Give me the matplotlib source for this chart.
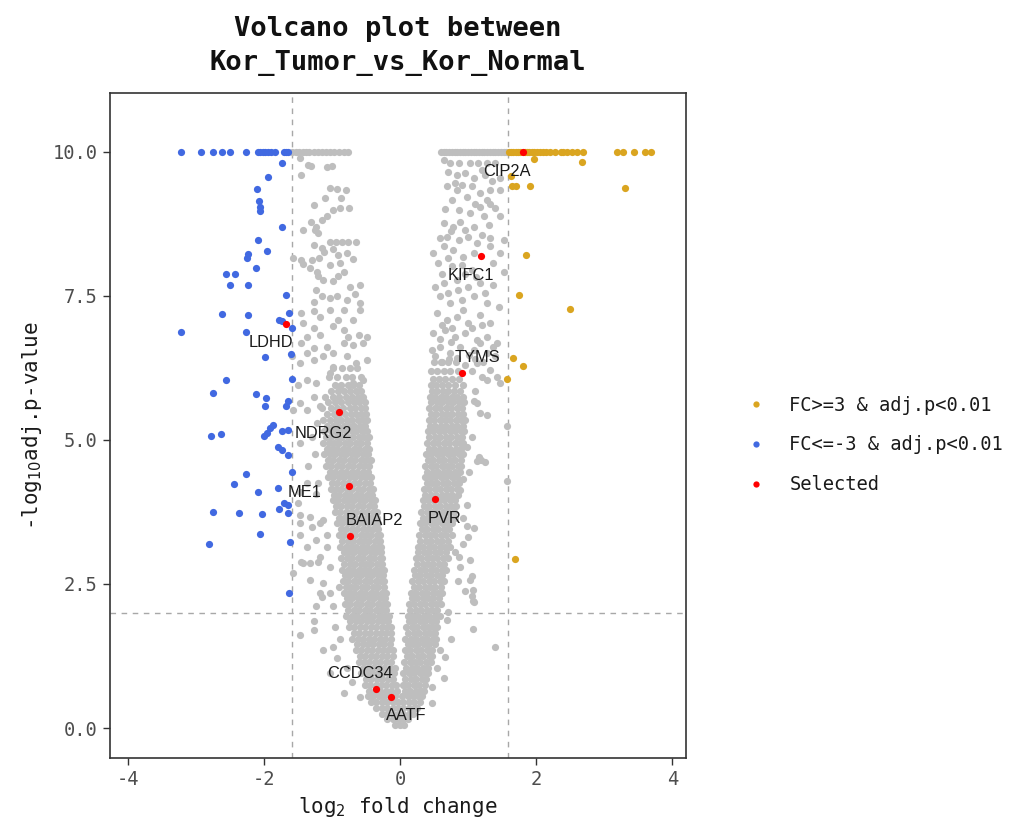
import matplotlib
matplotlib.use("Agg")
import matplotlib.pyplot as plt
from matplotlib.lines import Line2D
import numpy as np

plt.rcParams['axes.unicode_minus'] = False
MONO = 'DejaVu Sans Mono'

# ---- data ----
# dense part of the cloud, one row per -log10 p level: (y, [log2fc ...])
grey_tip_rows = [
    (0.05, [-0.08, 0.0, 0.06]),
    (0.15, [-0.19, -0.11, -0.03, 0.05, 0.12]),
    (0.25, [-0.27, -0.19, -0.11, -0.03, 0.05, 0.13, 0.19]),
    (0.35, [-0.35, -0.27, -0.19, -0.11, -0.03, 0.05, 0.13, 0.21, 0.25]),
    (0.45, [-0.43, -0.35, -0.27, -0.19, -0.11, -0.03, 0.05, 0.13, 0.21, 0.29]),
]
grey_left_rows = [
    (0.55, [-0.47, -0.39, -0.31, -0.23, -0.15, -0.07]),
    (0.65, [-0.45, -0.37, -0.29, -0.21, -0.13, -0.05]),
    (0.75, [-0.52, -0.44, -0.36, -0.28, -0.20, -0.12, -0.06]),
    (0.85, [-0.50, -0.42, -0.34, -0.26, -0.18, -0.10]),
    (0.95, [-0.57, -0.49, -0.41, -0.33, -0.25, -0.17, -0.09]),
    (1.05, [-0.55, -0.47, -0.39, -0.31, -0.23, -0.15, -0.08]),
    (1.15, [-0.61, -0.53, -0.45, -0.37, -0.29, -0.21, -0.13]),
    (1.25, [-0.59, -0.51, -0.43, -0.35, -0.27, -0.19, -0.10]),
    (1.35, [-0.65, -0.57, -0.49, -0.41, -0.33, -0.25, -0.17, -0.11]),
    (1.45, [-0.63, -0.55, -0.47, -0.39, -0.31, -0.23, -0.15]),
    (1.55, [-0.70, -0.62, -0.54, -0.46, -0.38, -0.30, -0.22, -0.14]),
    (1.65, [-0.68, -0.60, -0.52, -0.44, -0.36, -0.28, -0.20, -0.13]),
    (1.75, [-0.75, -0.67, -0.59, -0.51, -0.43, -0.35, -0.27, -0.19, -0.14]),
    (1.85, [-0.73, -0.65, -0.57, -0.49, -0.41, -0.33, -0.25, -0.17]),
    (1.95, [-0.79, -0.71, -0.63, -0.55, -0.47, -0.39, -0.31, -0.23, -0.16]),
    (2.05, [-0.76, -0.68, -0.60, -0.52, -0.44, -0.36, -0.28, -0.20]),
    (2.15, [-0.81, -0.73, -0.65, -0.57, -0.49, -0.41, -0.33, -0.25, -0.19]),
    (2.25, [-0.78, -0.70, -0.62, -0.54, -0.46, -0.38, -0.30, -0.22]),
    (2.35, [-0.83, -0.75, -0.67, -0.59, -0.51, -0.43, -0.35, -0.27, -0.21]),
    (2.45, [-0.80, -0.72, -0.64, -0.56, -0.48, -0.40, -0.32, -0.24]),
    (2.55, [-0.84, -0.76, -0.68, -0.60, -0.52, -0.44, -0.36, -0.28, -0.23]),
    (2.65, [-0.81, -0.73, -0.65, -0.57, -0.49, -0.41, -0.33, -0.25]),
    (2.75, [-0.85, -0.77, -0.69, -0.61, -0.53, -0.45, -0.37, -0.29, -0.24]),
    (2.85, [-0.82, -0.74, -0.66, -0.58, -0.50, -0.42, -0.34, -0.26]),
    (2.95, [-0.86, -0.78, -0.70, -0.62, -0.54, -0.46, -0.38, -0.30, -0.26]),
    (3.05, [-0.83, -0.75, -0.67, -0.59, -0.51, -0.43, -0.35, -0.28]),
    (3.15, [-0.88, -0.80, -0.72, -0.64, -0.56, -0.48, -0.40, -0.32, -0.28]),
    (3.25, [-0.85, -0.77, -0.69, -0.61, -0.53, -0.45, -0.37, -0.30]),
    (3.35, [-0.90, -0.82, -0.74, -0.66, -0.58, -0.50, -0.42, -0.34, -0.30]),
    (3.45, [-0.87, -0.79, -0.71, -0.63, -0.55, -0.47, -0.39, -0.32]),
    (3.55, [-0.93, -0.85, -0.77, -0.69, -0.61, -0.53, -0.45, -0.37, -0.32]),
    (3.65, [-0.90, -0.82, -0.74, -0.66, -0.58, -0.50, -0.42, -0.34]),
    (3.75, [-0.96, -0.88, -0.80, -0.72, -0.64, -0.56, -0.48, -0.40, -0.34]),
    (3.85, [-0.94, -0.86, -0.78, -0.70, -0.62, -0.54, -0.46, -0.38]),
    (3.95, [-0.99, -0.91, -0.83, -0.75, -0.67, -0.59, -0.51, -0.43, -0.37]),
    (4.05, [-0.97, -0.89, -0.81, -0.73, -0.65, -0.57, -0.49, -0.41]),
    (4.15, [-1.02, -0.94, -0.86, -0.78, -0.70, -0.62, -0.54, -0.46, -0.39]),
    (4.25, [-1.00, -0.92, -0.84, -0.76, -0.68, -0.60, -0.52, -0.44]),
    (4.35, [-1.06, -0.98, -0.90, -0.82, -0.74, -0.66, -0.58, -0.50, -0.42]),
    (4.45, [-1.03, -0.95, -0.87, -0.79, -0.71, -0.63, -0.55, -0.47]),
    (4.55, [-1.09, -1.01, -0.93, -0.85, -0.77, -0.69, -0.61, -0.53, -0.45]),
    (4.65, [-1.06, -0.98, -0.90, -0.82, -0.74, -0.66, -0.58, -0.50, -0.43]),
    (4.75, [-1.11, -1.03, -0.95, -0.87, -0.79, -0.71, -0.63, -0.55, -0.47]),
    (4.85, [-1.08, -1.00, -0.92, -0.84, -0.76, -0.68, -0.60, -0.52, -0.45]),
    (4.95, [-1.13, -1.05, -0.97, -0.89, -0.81, -0.73, -0.65, -0.57, -0.49]),
    (5.05, [-1.09, -1.01, -0.93, -0.85, -0.77, -0.69, -0.61, -0.53, -0.46]),
    (5.15, [-1.12, -1.02, -0.95, -0.88, -0.80, -0.71, -0.64, -0.56, -0.48]),
    (5.25, [-1.07, -0.99, -0.91, -0.83, -0.75, -0.67, -0.59, -0.51]),
    (5.35, [-1.13, -1.03, -0.94, -0.86, -0.78, -0.70, -0.62, -0.54, -0.49]),
    (5.45, [-1.08, -0.97, -0.89, -0.81, -0.72, -0.64, -0.57, -0.50]),
    (5.55, [-1.14, -1.02, -0.92, -0.84, -0.74, -0.66, -0.58, -0.51]),
    (5.65, [-1.06, -0.95, -0.86, -0.77, -0.68, -0.60, -0.52]),
    (5.75, [-1.10, -0.99, -0.89, -0.80, -0.71, -0.62, -0.55]),
    (5.85, [-1.02, -0.91, -0.83, -0.73, -0.65, -0.57]),
    (5.95, [-0.96, -0.86, -0.77, -0.69, -0.60]),
    (6.10, [-1.05, -0.92, -0.80, -0.70, -0.58]),
    (6.25, [-0.99, -0.85, -0.74, -0.63]),
]
grey_right_rows = [
    (0.55, [0.03, 0.11, 0.19, 0.27, 0.32]),
    (0.65, [0.07, 0.15, 0.23, 0.31, 0.35]),
    (0.75, [0.04, 0.12, 0.20, 0.28, 0.36]),
    (0.85, [0.08, 0.16, 0.24, 0.32, 0.38]),
    (0.95, [0.05, 0.13, 0.21, 0.29, 0.37, 0.41]),
    (1.05, [0.09, 0.17, 0.25, 0.33, 0.41]),
    (1.15, [0.06, 0.14, 0.22, 0.30, 0.38, 0.45]),
    (1.25, [0.10, 0.18, 0.26, 0.34, 0.42, 0.47]),
    (1.35, [0.07, 0.15, 0.23, 0.31, 0.39, 0.47]),
    (1.45, [0.11, 0.19, 0.27, 0.35, 0.43, 0.51]),
    (1.55, [0.08, 0.16, 0.24, 0.32, 0.40, 0.48, 0.53]),
    (1.65, [0.12, 0.20, 0.28, 0.36, 0.44, 0.52]),
    (1.75, [0.09, 0.17, 0.25, 0.33, 0.41, 0.49, 0.55]),
    (1.85, [0.13, 0.21, 0.29, 0.37, 0.45, 0.53]),
    (1.95, [0.11, 0.19, 0.27, 0.35, 0.43, 0.51, 0.58]),
    (2.05, [0.15, 0.23, 0.31, 0.39, 0.47, 0.55]),
    (2.15, [0.13, 0.21, 0.29, 0.37, 0.45, 0.53, 0.60]),
    (2.25, [0.17, 0.25, 0.33, 0.41, 0.49, 0.57]),
    (2.35, [0.16, 0.24, 0.32, 0.40, 0.48, 0.56, 0.62]),
    (2.45, [0.20, 0.28, 0.36, 0.44, 0.52, 0.60]),
    (2.55, [0.18, 0.26, 0.34, 0.42, 0.50, 0.58, 0.65]),
    (2.65, [0.22, 0.30, 0.38, 0.46, 0.54, 0.62]),
    (2.75, [0.21, 0.29, 0.37, 0.45, 0.53, 0.61, 0.68]),
    (2.85, [0.25, 0.33, 0.41, 0.49, 0.57, 0.65]),
    (2.95, [0.23, 0.31, 0.39, 0.47, 0.55, 0.63, 0.71]),
    (3.05, [0.27, 0.35, 0.43, 0.51, 0.59, 0.67]),
    (3.15, [0.26, 0.34, 0.42, 0.50, 0.58, 0.66, 0.74]),
    (3.25, [0.30, 0.38, 0.46, 0.54, 0.62, 0.70]),
    (3.35, [0.28, 0.36, 0.44, 0.52, 0.60, 0.68, 0.76]),
    (3.45, [0.32, 0.40, 0.48, 0.56, 0.64, 0.72]),
    (3.55, [0.29, 0.37, 0.45, 0.53, 0.61, 0.69, 0.77]),
    (3.65, [0.33, 0.41, 0.49, 0.57, 0.65, 0.73, 0.80]),
    (3.75, [0.31, 0.39, 0.47, 0.55, 0.63, 0.71, 0.79]),
    (3.85, [0.35, 0.43, 0.51, 0.59, 0.67, 0.75, 0.82]),
    (3.95, [0.33, 0.41, 0.49, 0.57, 0.65, 0.73, 0.81]),
    (4.05, [0.37, 0.45, 0.53, 0.61, 0.69, 0.77, 0.85]),
    (4.15, [0.35, 0.43, 0.51, 0.59, 0.67, 0.75, 0.83]),
    (4.25, [0.39, 0.47, 0.55, 0.63, 0.71, 0.79, 0.87]),
    (4.35, [0.36, 0.44, 0.52, 0.60, 0.68, 0.76, 0.84]),
    (4.45, [0.40, 0.48, 0.56, 0.64, 0.72, 0.80, 0.88]),
    (4.55, [0.37, 0.45, 0.53, 0.61, 0.69, 0.77, 0.85, 0.90]),
    (4.65, [0.41, 0.49, 0.57, 0.65, 0.73, 0.81, 0.89]),
    (4.75, [0.38, 0.46, 0.54, 0.62, 0.70, 0.78, 0.86, 0.92]),
    (4.85, [0.42, 0.50, 0.58, 0.66, 0.74, 0.82, 0.90]),
    (4.95, [0.40, 0.48, 0.56, 0.64, 0.72, 0.80, 0.88, 0.93]),
    (5.05, [0.43, 0.51, 0.59, 0.67, 0.75, 0.83, 0.91]),
    (5.15, [0.41, 0.49, 0.57, 0.65, 0.73, 0.81, 0.89, 0.94]),
    (5.25, [0.44, 0.52, 0.60, 0.68, 0.76, 0.84, 0.92]),
    (5.35, [0.42, 0.50, 0.58, 0.66, 0.74, 0.82, 0.90, 0.95]),
    (5.45, [0.45, 0.53, 0.61, 0.69, 0.77, 0.85, 0.93]),
    (5.55, [0.43, 0.51, 0.59, 0.67, 0.75, 0.83, 0.91]),
    (5.65, [0.46, 0.54, 0.62, 0.70, 0.78, 0.86, 0.94]),
    (5.75, [0.44, 0.52, 0.60, 0.68, 0.76, 0.84, 0.92]),
    (5.85, [0.47, 0.55, 0.63, 0.71, 0.79, 0.88]),
    (5.95, [0.45, 0.53, 0.61, 0.70, 0.80, 0.92]),
    (6.05, [0.48, 0.57, 0.66, 0.76, 0.86]),
    (6.20, [0.46, 0.55, 0.64, 0.74, 0.85]),
    (6.35, [0.50, 0.60, 0.70, 0.82]),
]
# capped genes on the top line (-log10 p = 10)
grey_top_x = [-1.58, -1.53, -1.48, -1.43, -1.38, -1.33, -1.27, -1.21, -1.15,
              -1.09, -1.03, -0.97, -0.90, -0.83, -0.76,
              0.60, 0.64, 0.68, 0.72, 0.76, 0.80, 0.84, 0.88, 0.92, 0.96, 1.00,
              1.04, 1.08, 1.12, 1.16, 1.20, 1.24, 1.28, 1.32, 1.36, 1.40, 1.44,
              1.48, 1.52, 1.56]
# loose points around the arms
grey_scatter = [
    (-1.47, 9.89), (-1.35, 9.77), (-1.31, 9.76), (-1.08, 9.73), (-1.00, 9.76), (-1.46, 9.60),
    (-1.03, 9.37), (-0.93, 9.36), (-0.79, 9.33), (-1.10, 9.20), (-0.86, 9.20), (-1.27, 9.08),
    (-0.98, 8.99), (-0.88, 9.02), (-0.75, 9.02), (-1.08, 8.88), (-1.14, 8.82), (-1.31, 8.79),
    (-1.23, 8.70), (-1.25, 8.65), (-1.42, 8.65), (-1.20, 8.59), (-1.27, 8.39), (-1.03, 8.44),
    (-0.94, 8.44), (-0.85, 8.44), (-0.76, 8.44), (-0.64, 8.44), (-1.15, 8.33), (-1.12, 8.26),
    (-0.98, 8.32), (-0.91, 8.21), (-0.78, 8.24), (-0.69, 8.14), (-1.57, 8.15), (-1.45, 8.13),
    (-1.43, 8.06), (-1.30, 8.13), (-1.19, 8.15), (-1.32, 7.98), (-1.22, 7.92), (-1.03, 8.04),
    (-0.88, 8.07), (-0.83, 7.92), (-1.20, 7.84), (-1.13, 7.78), (-0.98, 7.75), (-0.91, 7.84),
    (-0.74, 7.66), (-0.59, 7.69), (-1.23, 7.60), (-1.15, 7.49), (-1.27, 7.40), (-1.03, 7.46),
    (-0.93, 7.49), (-0.78, 7.43), (-0.66, 7.53), (-0.59, 7.37), (-1.45, 7.20), (-1.27, 7.23),
    (-1.18, 7.14), (-1.03, 7.26), (-0.91, 7.08), (-0.83, 7.26), (-0.69, 7.08), (-0.59, 7.26),
    (-1.42, 7.03), (-1.27, 6.94), (-1.37, 6.79), (-1.18, 6.82), (-0.98, 6.97), (-0.83, 6.91),
    (-0.76, 6.79), (-0.61, 6.82), (-0.49, 6.79), (-1.45, 6.68), (-1.37, 6.51), (-1.27, 6.59),
    (-1.08, 6.62), (-0.98, 6.51), (-0.83, 6.68), (-0.69, 6.65), (-0.54, 6.68), (-1.58, 6.45),
    (-1.47, 6.33), (-1.27, 6.39), (-1.13, 6.45), (-0.98, 6.27), (-0.78, 6.45), (-0.64, 6.33),
    (-0.49, 6.39), (-1.50, 5.95), (-1.37, 6.04), (-1.23, 5.98), (-1.03, 6.16), (-0.88, 5.93),
    (-0.69, 5.98), (-0.54, 6.04), (-1.57, 5.52), (-1.47, 5.64), (-1.37, 5.52), (-1.27, 5.75),
    (-1.18, 5.58),
    (-1.47, 4.94), (-1.50, 3.90), (-1.47, 3.70), (-1.47, 3.35), (-1.46, 2.89), (-1.32, 2.86),
    (-1.20, 2.89), (-1.57, 2.69), (-1.32, 2.57), (-1.18, 2.34), (-1.27, 1.85), (-1.27, 1.70),
    (-1.47, 1.61), (-0.93, 1.21), (-1.37, 4.25), (-1.20, 4.25), (-1.32, 3.67), (-1.18, 3.55),
    (-1.23, 3.26), (-1.37, 3.15), (-1.30, 3.49), (-1.08, 3.15), (-1.47, 4.10), (-1.23, 4.07),
    (-1.47, 3.55), (-1.13, 3.61), (-1.08, 3.35), (-1.42, 2.86), (-1.18, 2.97), (-1.03, 2.80),
    (-1.13, 2.51), (-1.03, 2.34), (-1.15, 2.28), (-0.98, 2.11), (-1.23, 2.11), (-1.13, 1.35),
    (-0.98, 1.41), (-1.03, 0.95), (-0.83, 0.60), (-0.59, 0.54), (-1.25, 4.75), (-1.30, 5.05),
    (-1.22, 5.30), (-1.35, 4.55), (-0.95, 1.75), (-0.90, 2.45), (-0.78, 1.05), (-0.70, 0.80),
    (-0.88, 1.55),
    (1.57, 5.24), (1.57, 4.28), (1.25, 4.62), (1.19, 4.65), (1.13, 4.64), (1.07, 1.72),
    (1.40, 1.41), (1.07, 2.39), (1.07, 2.20), (1.03, 2.57), (0.98, 4.88), (1.18, 5.46),
    (1.28, 5.43), (1.08, 5.67), (1.13, 5.64), (0.98, 3.50), (1.08, 3.47), (1.00, 3.32),
    (1.03, 2.92), (1.05, 2.63), (0.96, 2.37), (1.08, 2.18), (0.71, 2.02), (0.69, 1.88),
    (0.59, 1.35), (0.66, 1.24), (0.64, 0.86), (0.47, 0.72), (0.47, 0.43), (0.86, 2.97),
    (0.88, 2.80), (0.93, 3.20), (0.98, 3.87), (0.88, 4.13), (0.93, 4.33), (1.06, 2.30),
    (1.16, 4.70), (1.05, 5.05), (1.10, 5.85), (1.02, 4.45), (0.92, 3.65), (0.85, 2.55),
    (0.80, 3.05), (0.75, 1.55), (0.55, 1.05),
    (0.74, 9.80), (0.86, 9.80), (1.03, 9.80), (1.15, 9.80), (1.28, 9.80), (1.40, 9.80),
    (0.71, 9.65), (0.83, 9.60), (0.96, 9.63), (1.08, 9.55), (1.25, 9.60), (1.35, 9.50),
    (1.47, 9.55), (0.69, 9.40), (0.83, 9.34), (0.91, 9.43), (1.05, 9.40), (1.18, 9.28),
    (1.28, 9.17), (1.32, 9.34), (1.47, 9.34), (0.76, 9.17), (0.98, 9.22), (1.18, 9.05),
    (1.32, 9.10), (0.86, 8.99), (1.03, 8.94), (1.23, 8.88), (1.47, 8.88), (0.64, 8.76),
    (0.78, 8.70), (0.88, 8.79), (1.08, 8.70), (1.30, 8.73), (0.69, 8.53), (0.86, 8.47),
    (1.00, 8.53), (1.13, 8.41), (1.32, 8.50), (1.52, 8.47), (0.49, 8.24), (0.64, 8.36),
    (0.78, 8.30), (0.93, 8.18), (1.08, 8.24), (1.32, 8.36), (1.47, 8.24), (0.56, 8.07),
    (0.76, 8.01), (0.91, 8.04), (1.05, 7.95), (1.37, 8.07), (1.52, 7.92), (0.64, 7.72),
    (0.83, 7.78), (1.00, 7.66), (1.18, 7.72), (1.37, 7.69), (0.59, 7.49), (0.74, 7.37),
    (0.91, 7.43), (1.08, 7.49), (1.28, 7.37), (0.54, 7.20), (0.69, 7.08), (0.83, 7.14),
    (1.00, 7.03), (1.18, 7.17), (1.32, 7.03), (0.49, 6.85), (0.66, 6.91), (0.81, 6.79),
    (0.96, 6.85), (1.13, 6.74), (1.28, 6.79), (1.42, 6.68), (0.47, 6.56), (0.59, 6.62),
    (0.74, 6.51), (1.08, 6.56), (1.28, 6.51), (1.37, 6.62), (1.18, 6.68), (1.13, 6.33),
    (1.32, 6.22), (1.42, 6.10), (1.28, 6.04), (1.47, 5.98), (0.52, 6.45), (0.62, 6.35),
    (0.72, 6.40), (0.84, 6.42), (0.95, 6.30), (0.58, 6.75), (0.75, 6.70), (0.88, 6.62),
    (1.02, 6.48), (0.62, 7.00), (0.77, 6.95), (0.92, 7.25), (0.52, 7.65), (0.70, 7.55),
    (0.85, 7.60), (0.62, 7.88), (0.96, 7.88), (1.12, 7.82), (0.70, 8.15), (0.58, 8.50),
    (0.75, 8.62), (0.95, 8.65), (1.20, 8.55), (0.66, 9.00), (0.80, 9.45), (0.65, 9.85),
    (1.20, 9.68), (1.10, 9.10), (1.40, 9.02), (1.25, 7.55), (1.45, 7.30), (1.20, 7.00),
    (1.05, 6.95), (1.40, 6.45), (1.22, 6.35), (1.05, 6.20), (1.20, 6.10), (1.10, 6.40),
]

# FC<=-3 & adj.p<0.01
down_x = [-3.21, -2.93, -2.74, -2.61, -2.50, -2.26, -2.09, -2.05, -2.01, -1.98, -1.94,
          -1.90, -1.84, -1.71, -1.67, -1.64,
          -1.73, -1.94, -2.10, -2.07, -2.06, -2.05, -1.73, -2.08, -1.96, -2.24, -2.25,
          -2.12, -2.55, -2.42, -2.50, -2.23, -1.67, -2.62, -2.23, -1.63, -1.78, -1.74,
          -1.59, -3.22, -2.26, -1.60, -1.98, -2.55, -1.59, -2.74, -2.11, -1.97, -1.64,
          -1.98, -1.68, -1.86, -1.91, -1.96, -2.00, -1.74, -1.64, -2.77, -2.63, -1.79,
          -1.74, -1.65, -1.59, -2.26, -2.44, -2.08, -1.79, -1.70, -1.65, -2.75, -2.37,
          -2.02, -1.78, -1.64, -2.06, -2.80, -1.62, -1.63]
down_y = [10.0] * 16 + [
          9.81, 9.56, 9.35, 9.15, 9.05, 8.97, 8.70, 8.47, 8.28, 8.23, 8.15,
          7.99, 7.88, 7.88, 7.68, 7.68, 7.52, 7.19, 7.16, 7.20, 7.08, 7.07,
          6.94, 6.87, 6.87, 6.49, 6.44, 6.04, 6.05, 5.82, 5.79, 5.73, 5.67,
          5.58, 5.58, 5.26, 5.20, 5.12, 5.06, 5.16, 5.17, 5.06, 5.10, 4.87,
          4.83, 4.73, 4.44, 4.40, 4.23, 4.09, 4.17, 3.91, 3.87, 3.75, 3.74,
          3.71, 3.80, 3.74, 3.36, 3.19, 3.22, 2.34]

# FC>=3 & adj.p<0.01
up_x = [1.60, 1.63, 1.66, 1.70, 1.73, 1.76, 1.83, 1.87, 1.90, 1.94, 1.97, 2.01, 2.05,
        2.10, 2.15, 2.20, 2.28, 2.36, 2.40, 2.45, 2.52, 2.60, 2.68, 3.19, 3.28, 3.43,
        3.60, 3.68,
        1.97, 2.67, 1.63, 1.64, 1.71, 1.91, 3.30, 1.85, 1.74, 2.49, 1.66, 1.81, 1.57, 1.69]
up_y = [10.0] * 28 + [9.87, 9.82, 9.58, 9.40, 9.40, 9.40, 9.37, 8.21, 7.52, 7.27,
                      6.43, 6.29, 6.05, 2.93]

# selected genes and where their labels sit
sel_genes = ['CIP2A', 'KIFC1', 'TYMS', 'LDHD', 'NDRG2', 'ME1', 'BAIAP2', 'PVR', 'CCDC34', 'AATF']
sel_x = [1.80, 1.19, 0.91, -1.67, -0.90, -0.75, -0.74, 0.52, -0.36, -0.13]
sel_y = [10.0, 8.20, 6.16, 7.01, 5.49, 4.20, 3.33, 3.97, 0.68, 0.53]
lab_x = [1.57, 1.04, 1.13, -1.89, -1.13, -1.40, -0.38, 0.65, -0.59, 0.09]
lab_y = [9.66, 7.86, 6.43, 6.69, 5.11, 4.09, 3.61, 3.64, 0.95, 0.22]

fc_cut = np.log2(3)
p_cut = 2

# ---- assemble grey cloud ----
grey_x, grey_y = [], []
for yy, xs in grey_tip_rows + grey_left_rows + grey_right_rows:
    grey_x += xs
    grey_y += [yy] * len(xs)
grey_x += grey_top_x
grey_y += [10.0] * len(grey_top_x)
grey_x += [p[0] for p in grey_scatter]
grey_y += [p[1] for p in grey_scatter]

col_grey = '#BEBEBE'
col_up = '#DAA520'
col_down = '#4169E1'
col_sel = '#FF0000'

fig = plt.figure(figsize=(10.23, 8.24), dpi=100)
ax = fig.add_axes([0.1075, 0.0801, 0.5631, 0.807])

ms = 27
ax.scatter(grey_x, grey_y, s=ms, c=col_grey, linewidths=0, zorder=2)
ax.scatter(up_x, up_y, s=ms, c=col_up, linewidths=0, zorder=3)
ax.scatter(down_x, down_y, s=ms, c=col_down, linewidths=0, zorder=3)
ax.scatter(sel_x, sel_y, s=ms, c=col_sel, linewidths=0, zorder=4)

for g, tx, ty in zip(sel_genes, lab_x, lab_y):
    ax.text(tx, ty, g, ha='center', va='center', fontsize=11.8,
            family='Liberation Sans', color='#1a1a1a', zorder=5)

for v in (-fc_cut, fc_cut):
    ax.axvline(v, color='#A8A8A8', lw=1.0, ls=(0, (4, 4)), zorder=1)
ax.axhline(p_cut, color='#A8A8A8', lw=1.0, ls=(0, (4, 4)), zorder=1)

ax.set_xlim(-4.26, 4.2)
ax.set_ylim(-0.52, 11.02)
ax.set_xticks([-4, -2, 0, 2, 4])
ax.set_xticklabels(['-4', '-2', '0', '2', '4'])
ax.set_yticks([0, 2.5, 5, 7.5, 10])
ax.set_yticklabels(['0.0', '2.5', '5.0', '7.5', '10.0'])
ax.tick_params(direction='out', length=5, width=1, color='#333333',
               labelsize=13.5, labelcolor='#4D4D4D', pad=4)
for lab in ax.get_xticklabels() + ax.get_yticklabels():
    lab.set_family(MONO)
for sp in ax.spines.values():
    sp.set_color('#333333')
    sp.set_linewidth(1.2)

ax.set_xlabel('log$_2$ fold change', family=MONO, fontsize=15, color='#1a1a1a', labelpad=4)
ax.set_ylabel('-log$_{10}$adj.p-value', family=MONO, fontsize=15, color='#1a1a1a', labelpad=6)

fig.text(0.389, 0.9445, 'Volcano plot between\nKor_Tumor_vs_Kor_Normal',
         ha='center', va='center', fontsize=19.5, fontweight='bold',
         family=MONO, linespacing=1.42, color='#111111')

handles = [Line2D([], [], ls='none', marker='o', ms=4.5, mfc=c, mec='none')
           for c in (col_up, col_down, col_sel)]
fig.legend(handles, ['FC>=3 & adj.p<0.01', 'FC<=-3 & adj.p<0.01', 'Selected'],
           loc='center left', bbox_to_anchor=(0.713, 0.46), frameon=False,
           prop={'family': MONO, 'size': 13.5}, handlelength=1.0,
           handletextpad=1.3, labelspacing=1.1, borderpad=0.4, labelcolor='#1a1a1a')

fig.savefig('out.png', dpi=100)
